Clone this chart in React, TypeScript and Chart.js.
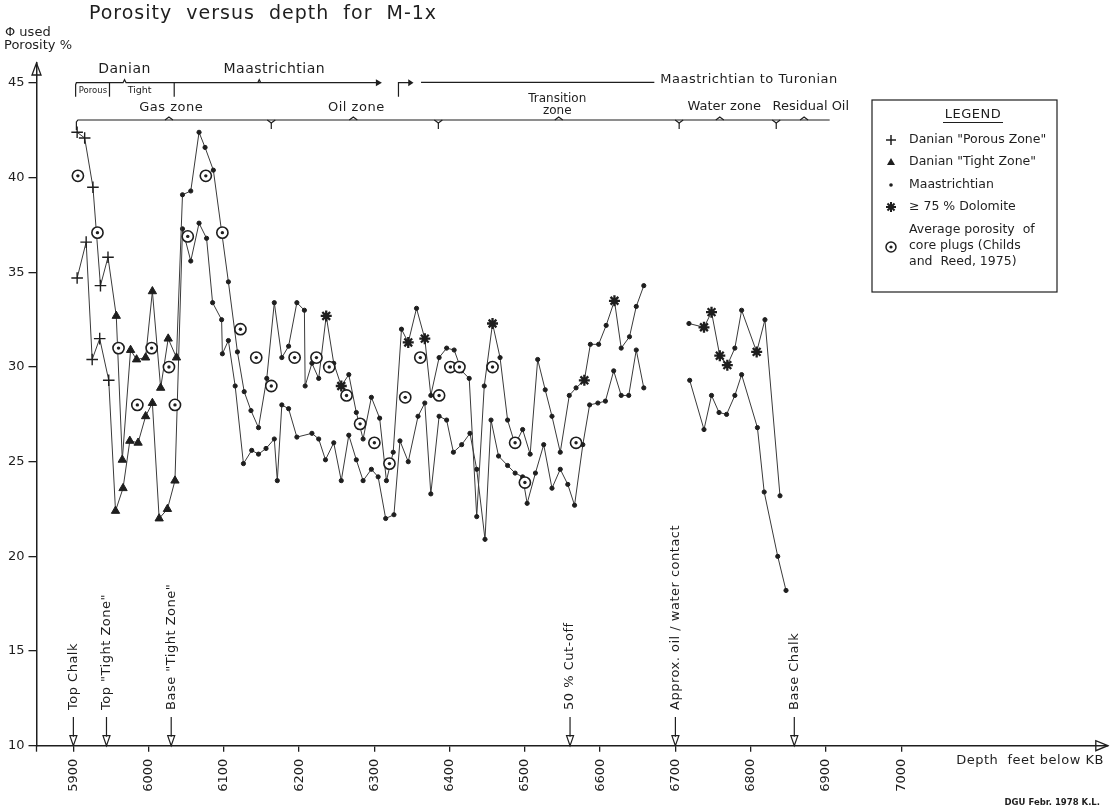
import { useEffect, useRef } from "react";
import { Chart, registerables } from "chart.js";

Chart.register(...registerables);

// ---------- data ----------
// Marker codes: P = Danian "Porous Zone", T = Danian "Tight Zone", M = Maastrichtian, D = >=75% Dolomite
const upperDepth = [5905, 5915, 5926, 5936, 5946, 5957, 5965, 5976, 5984, 5996, 6005, 6016, 6026, 6037, 6045, 6056, 6067, 6075, 6086, 6106, 6118, 6127, 6136, 6146, 6157, 6167, 6177, 6186, 6197, 6207, 6208, 6217, 6226, 6236, 6246, 6256, 6266, 6276, 6285, 6296, 6307, 6316, 6325, 6336, 6345, 6356, 6367, 6375, 6386, 6396, 6406, 6416, 6426, 6436, 6446, 6457, 6467, 6477, 6487, 6497, 6507, 6517, 6527, 6536, 6547, 6559, 6568, 6579, 6587, 6598, 6608, 6619, 6628, 6639, 6648, 6658];
const upperPorosity = [42.4, 42.1, 39.5, 34.3, 35.8, 32.7, 25.1, 30.9, 30.4, 30.5, 34.0, 28.9, 31.5, 30.5, 39.1, 39.3, 42.4, 41.6, 40.4, 34.5, 30.8, 28.7, 27.7, 26.8, 29.4, 33.4, 30.5, 31.1, 33.4, 33.0, 29.0, 30.2, 29.4, 32.7, 30.2, 29.0, 29.6, 27.6, 26.2, 28.4, 27.3, 24.0, 25.5, 32.0, 31.3, 33.1, 31.5, 28.5, 30.5, 31.0, 30.9, 29.8, 29.4, 22.1, 29.0, 32.3, 30.5, 27.2, 25.9, 26.7, 25.4, 30.4, 28.8, 27.4, 25.5, 28.5, 28.9, 29.3, 31.2, 31.2, 32.2, 33.5, 31.0, 31.6, 33.2, 34.3];
const upperMarker = ["P", "P", "P", "P", "P", "T", "T", "T", "T", "T", "T", "T", "T", "T", "M", "M", "M", "M", "M", "M", "M", "M", "M", "M", "M", "M", "M", "M", "M", "M", "M", "M", "M", "D", "M", "D", "M", "M", "M", "M", "M", "M", "M", "M", "D", "M", "D", "M", "M", "M", "M", "M", "M", "M", "M", "D", "M", "M", "M", "M", "M", "M", "M", "M", "M", "M", "M", "D", "M", "M", "M", "D", "M", "M", "M", "M"];

const lowerDepth = [5905, 5917, 5925, 5935, 5947, 5956, 5966, 5975, 5986, 5996, 6005, 6014, 6025, 6035, 6045, 6056, 6067, 6077, 6085, 6097, 6098, 6106, 6115, 6126, 6137, 6146, 6156, 6167, 6171, 6177, 6186, 6197, 6217, 6226, 6235, 6246, 6256, 6266, 6276, 6285, 6296, 6305, 6315, 6326, 6334, 6345, 6358, 6367, 6375, 6386, 6396, 6405, 6416, 6427, 6436, 6447, 6455, 6465, 6477, 6487, 6497, 6503, 6514, 6525, 6536, 6547, 6557, 6566, 6577, 6586, 6597, 6607, 6618, 6628, 6638, 6648, 6658];
const lowerPorosity = [34.7, 36.6, 30.4, 31.5, 29.3, 22.4, 23.6, 26.1, 26.0, 27.4, 28.1, 22.0, 22.5, 24.0, 37.3, 35.6, 37.6, 36.8, 33.4, 32.5, 30.7, 31.4, 29.0, 24.9, 25.6, 25.4, 25.7, 26.2, 24.0, 28.0, 27.8, 26.3, 26.5, 26.2, 25.1, 26.0, 24.0, 26.4, 25.1, 24.0, 24.6, 24.2, 22.0, 22.2, 26.1, 25.0, 27.4, 28.1, 23.3, 27.4, 27.2, 25.5, 25.9, 26.5, 24.6, 20.9, 27.2, 25.3, 24.8, 24.4, 24.2, 22.8, 24.4, 25.9, 23.6, 24.6, 23.8, 22.7, 25.9, 28.0, 28.1, 28.2, 29.8, 28.5, 28.5, 30.9, 28.9];
const lowerMarker = ["P", "P", "P", "P", "P", "T", "T", "T", "T", "T", "T", "T", "T", "T", "M", "M", "M", "M", "M", "M", "M", "M", "M", "M", "M", "M", "M", "M", "M", "M", "M", "M", "M", "M", "M", "M", "M", "M", "M", "M", "M", "M", "M", "M", "M", "M", "M", "M", "M", "M", "M", "M", "M", "M", "M", "M", "M", "M", "M", "M", "M", "M", "M", "M", "M", "M", "M", "M", "M", "M", "M", "M", "M", "M", "M", "M", "M"];

const waterUpperDepth = [6718, 6738, 6748, 6759, 6769, 6779, 6788, 6808, 6819, 6839];
const waterUpperPorosity = [32.3, 32.1, 32.9, 30.6, 30.1, 31.0, 33.0, 30.8, 32.5, 23.2];
const waterUpperMarker = ["M", "D", "D", "D", "D", "M", "M", "D", "M", "M"];

const waterLowerDepth = [6719, 6738, 6748, 6758, 6768, 6779, 6788, 6809, 6818, 6836, 6847];
const waterLowerPorosity = [29.3, 26.7, 28.5, 27.6, 27.5, 28.5, 29.6, 26.8, 23.4, 20.0, 18.2];
const waterLowerMarker = ["M", "M", "M", "M", "M", "M", "M", "M", "M", "M", "M"];

const plugDepth = [5906, 5932, 5960, 5985, 6004, 6027, 6035, 6052, 6076, 6098, 6122, 6143, 6163, 6194, 6223, 6240, 6263, 6281, 6300, 6320, 6341, 6361, 6386, 6401, 6413, 6457, 6487, 6500, 6568];
const plugPorosity = [40.1, 37.1, 31.0, 28.0, 31.0, 30.0, 28.0, 36.9, 40.1, 37.1, 32.0, 30.5, 29.0, 30.5, 30.5, 30.0, 28.5, 27.0, 26.0, 24.9, 28.4, 30.5, 28.5, 30.0, 30.0, 30.0, 26.0, 23.9, 26.0];

const xTicks = [5900, 6000, 6100, 6200, 6300, 6400, 6500, 6600, 6700, 6800, 6900, 7000];
const yTicks = [10, 15, 20, 25, 30, 35, 40, 45];

const markerDepths = [5900, 5944, 6030, 6560, 6700, 6858];
const markerLabels = ["Top Chalk", 'Top "Tight Zone"', 'Base "Tight Zone"', "50 % Cut-off", "Approx. oil / water contact", "Base Chalk"];

// ---------- style ----------
const FONT = '"DejaVu Sans", "Liberation Sans", sans-serif';
const INK = "#1e1e1e";
const LINE = "#3a3a3a";

const styleOf = (m: string) => (m === "P" ? "cross" : m === "T" ? "triangle" : m === "D" ? "star" : "circle");
const radiusOf = (m: string) => (m === "P" ? 5.8 : m === "T" ? 4.8 : m === "D" ? 5.5 : 2.1);
const widthOf = (m: string) => (m === "P" ? 1.4 : m === "D" ? 2.3 : 1);

function series(depths: number[], vals: number[], marks: string[]) {
  return {
    data: depths.map((d, i) => ({ x: d, y: vals[i] })),
    showLine: true,
    borderColor: LINE,
    borderWidth: 1,
    tension: 0,
    order: 3,
    pointStyle: marks.map(styleOf),
    pointRadius: marks.map(radiusOf),
    pointBorderWidth: marks.map(widthOf),
    pointBackgroundColor: INK,
    pointBorderColor: INK,
  };
}

function txt(ctx: CanvasRenderingContext2D, s: string, x: number, y: number, size: number, align: CanvasTextAlign = "center", weight = "normal", spacing = "0px") {
  ctx.font = `${weight} ${size}px ${FONT}`;
  (ctx as any).letterSpacing = spacing;
  ctx.textAlign = align;
  ctx.textBaseline = "middle";
  ctx.fillText(s, x, y);
  (ctx as any).letterSpacing = "0px";
}

function line(ctx: CanvasRenderingContext2D, pts: number[][]) {
  ctx.beginPath();
  ctx.moveTo(pts[0][0], pts[0][1]);
  for (let i = 1; i < pts.length; i++) ctx.lineTo(pts[i][0], pts[i][1]);
  ctx.stroke();
}

const annotations = {
  id: "annotations",
  afterDraw(chart: any) {
    const ctx: CanvasRenderingContext2D = chart.ctx;
    const xs = chart.scales.x;
    const ys = chart.scales.y;
    const X = (d: number) => xs.getPixelForValue(d);
    const y0 = ys.getPixelForValue(10);
    const ca = chart.chartArea;
    ctx.save();
    ctx.strokeStyle = INK;
    ctx.fillStyle = INK;
    ctx.lineWidth = 1.2;

    // title and axis titles
    txt(ctx, "Porosity  versus  depth  for  M-1x", 263, 14, 19, "center", "normal", "1px");
    txt(ctx, "Φ used", 5, 33, 13, "left");
    txt(ctx, "Porosity %", 4, 46, 13, "left");
    txt(ctx, "Depth  feet below KB", 1030, 761, 13, "center", "normal", "0.5px");
    txt(ctx, "DGU Febr. 1978 K.L.", 1100, 803, 8.5, "right", "bold");

    // axis arrows
    ctx.lineWidth = 1.3;
    ctx.beginPath();
    ctx.moveTo(ca.left, ca.top);
    ctx.lineTo(ca.left - 4.5, ca.top + 12);
    ctx.lineTo(ca.left + 4.5, ca.top + 12);
    ctx.closePath();
    ctx.stroke();
    ctx.beginPath();
    ctx.moveTo(ca.right, y0);
    ctx.lineTo(ca.right - 12, y0 - 5);
    ctx.lineTo(ca.right - 12, y0 + 5);
    ctx.closePath();
    ctx.stroke();
    line(ctx, [[ca.left, y0], [ca.left, y0 + 6]]);

    // ---- header row 1 (stratigraphy) ----
    ctx.lineWidth = 1.2;
    const r1 = 82.7;
    txt(ctx, "Danian", X(5968), 69, 14, "center", "normal", "0.5px");
    txt(ctx, "Maastrichtian", X(6167), 69, 14, "center", "normal", "0.5px");
    line(ctx, [[X(5903), r1 + 14], [X(5903), r1 + 2], [X(5904), r1], [X(5966), r1], [X(5968), r1 - 3], [X(5970), r1], [X(6305), r1]]);
    line(ctx, [[X(5948), r1], [X(5948), r1 + 14]]);
    line(ctx, [[X(6034), r1], [X(6034), r1 + 14]]);
    line(ctx, [[X(6145), r1], [X(6147), r1 - 3], [X(6149), r1]]);
    ctx.beginPath();
    ctx.moveTo(X(6310), r1);
    ctx.lineTo(X(6302), r1 - 3.5);
    ctx.lineTo(X(6302), r1 + 3.5);
    ctx.closePath();
    ctx.fill();
    txt(ctx, "Porous", X(5926), 90.5, 8.5);
    txt(ctx, "Tight", X(5988), 90.5, 9.5);
    // bent arrow
    line(ctx, [[X(6332), r1 + 14], [X(6332), r1], [X(6346), r1]]);
    ctx.beginPath();
    ctx.moveTo(X(6352), r1);
    ctx.lineTo(X(6345), r1 - 3.5);
    ctx.lineTo(X(6345), r1 + 3.5);
    ctx.closePath();
    ctx.fill();
    line(ctx, [[X(6362), r1 - 0.4], [X(6672), r1 - 0.4]]);
    txt(ctx, "Maastrichtian to Turonian", X(6680), 79.5, 13, "left", "normal", "0.5px");

    // ---- header row 2 (fluid zones) ----
    const r2 = 120;
    line(ctx, [[X(5904), r2 + 10], [X(5904), r2 + 2], [X(5906), r2], [X(6905), r2]]);
    for (const p of [6027, 6272, 6545, 6759, 6871]) {
      line(ctx, [[X(p) - 4, r2], [X(p), r2 - 3], [X(p) + 4, r2]]);
    }
    for (const j of [6163, 6385, 6705, 6834]) {
      line(ctx, [[X(j) - 4, r2], [X(j), r2 + 3], [X(j) + 4, r2]]);
      line(ctx, [[X(j), r2 + 3], [X(j), r2 + 9]]);
    }
    txt(ctx, "Gas zone", X(6030), 108, 13, "center", "normal", "0.5px");
    txt(ctx, "Oil zone", X(6276), 108, 13, "center", "normal", "0.5px");
    txt(ctx, "Transition", X(6543), 99, 12);
    txt(ctx, "zone", X(6543), 110.5, 12);
    txt(ctx, "Water zone", X(6765), 107, 13);
    txt(ctx, "Residual Oil", X(6880), 107, 13);

    // ---- bottom event markers ----
    ctx.lineWidth = 1.2;
    markerDepths.forEach((d, i) => {
      const px = X(d);
      line(ctx, [[px, 717], [px, y0 - 9]]);
      ctx.beginPath();
      ctx.moveTo(px, y0);
      ctx.lineTo(px - 3.5, y0 - 10);
      ctx.lineTo(px + 3.5, y0 - 10);
      ctx.closePath();
      ctx.stroke();
      ctx.save();
      ctx.translate(px, 710);
      ctx.rotate(-Math.PI / 2);
      txt(ctx, markerLabels[i], 0, 0, 13, "left", "normal", "0.5px");
      ctx.restore();
    });

    // ---- legend ----
    ctx.lineWidth = 1.2;
    ctx.strokeRect(872, 100, 185, 192);
    txt(ctx, "LEGEND", 973, 115, 13, "center", "normal", "0.5px");
    line(ctx, [[943, 122.5], [1003, 122.5]]);
    const mx = 891;
    const tx = 909;
    // cross
    ctx.lineWidth = 1.5;
    line(ctx, [[mx - 5, 140], [mx + 5, 140]]);
    line(ctx, [[mx, 135], [mx, 145]]);
    txt(ctx, 'Danian "Porous Zone"', tx, 140, 12.5, "left");
    // triangle
    ctx.beginPath();
    ctx.moveTo(mx, 158);
    ctx.lineTo(mx - 4, 165);
    ctx.lineTo(mx + 4, 165);
    ctx.closePath();
    ctx.fill();
    txt(ctx, 'Danian "Tight Zone"', tx, 162, 12.5, "left");
    // dot
    ctx.beginPath();
    ctx.arc(mx, 185, 1.8, 0, Math.PI * 2);
    ctx.fill();
    txt(ctx, "Maastrichtian", tx, 185, 12.5, "left");
    // star
    ctx.lineWidth = 2;
    for (let k = 0; k < 4; k++) {
      const a = (k * Math.PI) / 4;
      line(ctx, [[mx - 5 * Math.cos(a), 207 - 5 * Math.sin(a)], [mx + 5 * Math.cos(a), 207 + 5 * Math.sin(a)]]);
    }
    txt(ctx, "≥ 75 % Dolomite", tx, 207, 12.5, "left");
    // plug circle
    ctx.lineWidth = 1.5;
    ctx.beginPath();
    ctx.arc(mx, 247, 5, 0, Math.PI * 2);
    ctx.stroke();
    ctx.beginPath();
    ctx.arc(mx, 247, 1.6, 0, Math.PI * 2);
    ctx.fill();
    txt(ctx, "Average porosity  of", tx, 230, 12.5, "left");
    txt(ctx, "core plugs (Childs", tx, 246, 12.5, "left");
    txt(ctx, "and  Reed, 1975)", tx, 262, 12.5, "left");

    ctx.restore();
  },
};

export default function App() {
  const ref = useRef<HTMLCanvasElement | null>(null);
  useEffect(() => {
    if (!ref.current) return;
    const plugs = plugDepth.map((d, i) => ({ x: d, y: plugPorosity[i] }));
    const chart = new Chart(ref.current, {
      type: "scatter",
      data: {
        datasets: [
          series(upperDepth, upperPorosity, upperMarker) as any,
          series(lowerDepth, lowerPorosity, lowerMarker) as any,
          series(waterUpperDepth, waterUpperPorosity, waterUpperMarker) as any,
          series(waterLowerDepth, waterLowerPorosity, waterLowerMarker) as any,
          {
            data: plugs,
            order: 1,
            pointStyle: "circle",
            pointRadius: 5.6,
            pointBorderWidth: 1.6,
            pointBackgroundColor: "#ffffff",
            pointBorderColor: INK,
          },
          {
            data: plugs,
            order: 0,
            pointStyle: "circle",
            pointRadius: 1.7,
            pointBorderWidth: 0,
            pointBackgroundColor: INK,
          },
        ],
      },
      options: {
        responsive: false,
        devicePixelRatio: 1,
        animation: false,
        layout: { padding: { top: 63, right: 3, left: 0, bottom: 0 } },
        plugins: { legend: { display: false }, tooltip: { enabled: false }, title: { display: false } },
        scales: {
          x: {
            type: "linear",
            min: 5851,
            max: 7274.6,
            border: { display: true, color: INK, width: 1.5 },
            grid: { drawOnChartArea: false, drawTicks: true, tickLength: 6, color: INK, lineWidth: 1.3 },
            ticks: {
              minRotation: 90,
              maxRotation: 90,
              padding: 7,
              autoSkip: false,
              color: INK,
              font: { family: FONT, size: 13 },
              callback: (v: any) => String(v),
            },
            afterBuildTicks: (s: any) => {
              s.ticks = xTicks.map((v) => ({ value: v }));
            },
            afterFit: (s: any) => {
              s.height = 65.3;
            },
          },
          y: {
            type: "linear",
            min: 10,
            max: 46.06,
            border: { display: true, color: INK, width: 1.5 },
            grid: { drawOnChartArea: false, drawTicks: true, tickLength: 8, color: INK, lineWidth: 1.3 },
            ticks: { padding: 4, color: INK, font: { family: FONT, size: 13 }, callback: (v: any) => String(v) },
            afterBuildTicks: (s: any) => {
              s.ticks = yTicks.map((v) => ({ value: v }));
            },
            afterFit: (s: any) => {
              s.width = 36.5;
            },
          },
        },
      } as any,
      plugins: [annotations],
    });
    return () => chart.destroy();
  }, []);
  return (
    <div style={{ position: "absolute", left: 0, top: 0, width: 1115, height: 811, background: "#fff" }}>
      <canvas ref={ref} width={1115} height={811} style={{ display: "block", width: 1115, height: 811 }} />
    </div>
  );
}
